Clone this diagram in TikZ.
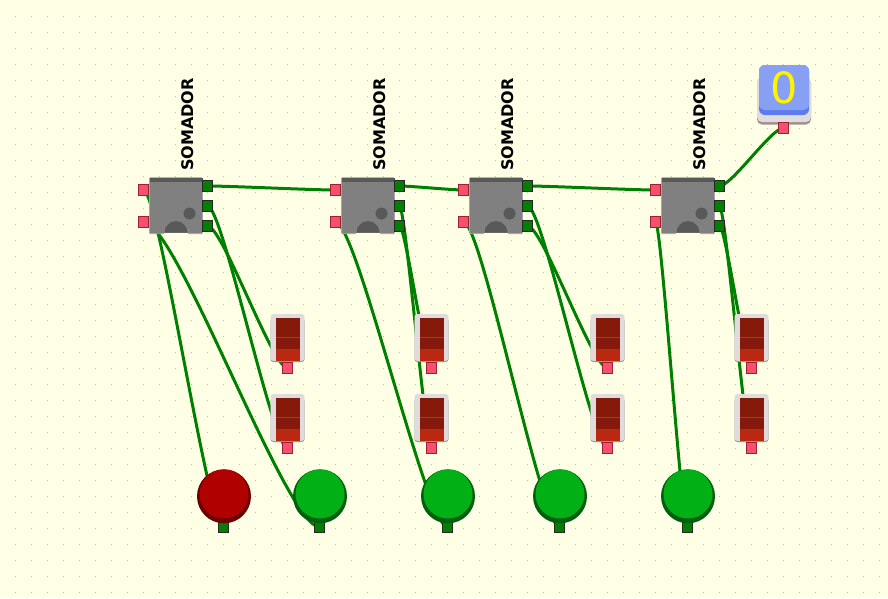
\documentclass[tikz,border=0pt]{standalone}
\usepackage{fontspec}
\setsansfont{DejaVu Sans}
\usepackage{xcolor}
\usetikzlibrary{positioning, calc}
\definecolor{canvascolor}{RGB}{255, 255, 230}
\definecolor{griddot}{RGB}{190, 190, 175}
\definecolor{wirecolor}{RGB}{0, 128, 0}
\definecolor{inportcolor}{RGB}{245, 80, 110}
\definecolor{inportedge}{RGB}{160, 30, 50}
\definecolor{segdark}{RGB}{133, 26, 10}
\definecolor{seglight}{RGB}{187, 40, 17}
\definecolor{segline}{RGB}{160, 60, 45}
\definecolor{ledgreen}{RGB}{0, 176, 21}
\definecolor{ledgreendark}{RGB}{0, 96, 16}
\definecolor{ledred}{RGB}{176, 0, 0}
\definecolor{ledreddark}{RGB}{106, 0, 0}
\definecolor{keytop}{RGB}{136, 160, 244}
\definecolor{keyside}{RGB}{92, 124, 238}
\definecolor{keybase}{RGB}{224, 220, 220}
\definecolor{keyshade}{RGB}{160, 144, 144}
\pgfdeclarelayer{wires}
\pgfsetlayers{wires,main}
\tikzset{
    inport/.style={draw=inportedge, fill=inportcolor, line width=0.8pt, minimum size=10.4pt, inner sep=0pt},
    outport/.style={draw=black!85, fill=wirecolor, line width=0.8pt, minimum size=10.4pt, inner sep=0pt},
    adderbody/.style={draw=gray!70, fill=gray, line width=0.8pt, minimum width=53pt, minimum height=56pt, inner sep=0pt, rounded corners=1pt},
    segbody/.style={draw=none, fill=keybase, minimum width=34pt, minimum height=47pt, inner sep=0pt, rounded corners=3pt},
    wireline/.style={wirecolor, line width=3pt}
}
\newcommand{\wire}[2]{\draw[wireline] let \p1=(#1.center), \p2=(#2.center), \n1={0.19*(\x2-\x1)} in (#1.center) .. controls +(\n1,0pt) and +(-\n1,0pt) .. (#2.center);}
\begin{document}
\begin{tikzpicture}[x=1pt, y=-1pt]
    \useasboundingbox (0,0) rectangle (888,598);
    \begin{pgfonlayer}{wires}
        % Canvas
        \fill[canvascolor] (0,0) rectangle (888,598);
        \foreach \gx in {0,...,55} {
            \foreach \gy in {1,...,37} {
                \fill[griddot] (16*\gx+15,16*\gy-0.5) rectangle +(1.2,1.2);
            }
        }
    \end{pgfonlayer}

    % Adders
    \foreach \i/\x in {1/176, 2/368, 3/496, 4/688} {
        \node[adderbody] (add\i) at (\x,205.7) {};
        \fill[black!65] (\x-26,178) rectangle (\x+26.5,181.5);
        \fill[canvascolor] (\x-12,232.6) rectangle (\x+12,235);
        \fill[black!65] (\x-11.5,232.6) arc[start angle=180, end angle=360, radius=11.5] -- cycle;
        \fill[black!65] (\x+13.5,213.5) circle (6);
        \node[inport] (add\i-in1) at (\x-32.5,190) {};
        \node[inport] (add\i-in2) at (\x-32.5,222) {};
        \node[outport] (add\i-out1) at (\x+31.5,186) {};
        \node[outport] (add\i-out2) at (\x+31.5,206) {};
        \node[outport] (add\i-out3) at (\x+31.5,226) {};
        \node[rotate=90, font=\sffamily\bfseries\fontsize{16}{17}\selectfont] (add\i-label) at (\x+11.7,124.5) {SOMADOR};
    }

    % Segment displays
    \foreach \i/\x in {1/287.5, 2/431.5, 3/607.5, 4/751.5} {
        \foreach \j/\y in {1/338, 2/418} {
            \fill[black!45, rounded corners=3pt] (\x-17,\y-20) rectangle (\x+17,\y+24);
            \node[segbody] (seg\i\j) at (\x,\y-0.5) {};
            \fill[segdark] (\x-12,\y-20) rectangle (\x+12,\y+11);
            \draw[segline, line width=0.6pt] (\x-12,\y-1) -- (\x+12,\y-1);
            \fill[seglight] (\x-12,\y+11) rectangle (\x+12,\y+23);
            \node[inport] (seg\i\j-in) at (\x,\y+30) {};
        }
    }

    % Round lamps
    \foreach \i/\x/\top/\rim in {1/224/ledred/ledreddark, 2/320/ledgreen/ledgreendark, 3/448/ledgreen/ledgreendark, 4/560/ledgreen/ledgreendark, 5/688/ledgreen/ledgreendark} {
        \node[outport] (lamp\i-in) at (\x-0.5,527) {};
        \fill[\rim] (\x,496.3) circle (27);
        \node[circle, fill=\top, minimum size=49pt, inner sep=0pt] (lamp\i) at (\x,494) {};
    }

    % Switch
    \fill[keyshade, rounded corners=5pt] (757,78) rectangle (811,124.5);
    \fill[keybase, rounded corners=5pt] (757,78) rectangle (811,122);
    \fill[keyside, rounded corners=6pt] (759,65) rectangle (809,115);
    \node[fill=keytop, rounded corners=6pt, minimum width=50pt, minimum height=45pt, inner sep=0pt, font=\sffamily\fontsize{43}{43}\selectfont, text=yellow] (sw) at (784,87.5) {0};
    \node[inport] (sw-out) at (783.5,128) {};

    % Wires
    \begin{pgfonlayer}{wires}
        \wire{add1-out1}{add2-in1}
        \wire{add2-out1}{add3-in1}
        \wire{add3-out1}{add4-in1}
        \wire{add4-out1}{sw-out}
        \foreach \i in {1,2,3,4} {
            \wire{add\i-out2}{seg\i2-in}
            \wire{add\i-out3}{seg\i1-in}
        }
        \wire{add1-in1}{lamp1-in}
        \wire{add1-in2}{lamp2-in}
        \wire{add2-in2}{lamp3-in}
        \wire{add3-in2}{lamp4-in}
        \wire{add4-in2}{lamp5-in}
    \end{pgfonlayer}
\end{tikzpicture}
\end{document}
